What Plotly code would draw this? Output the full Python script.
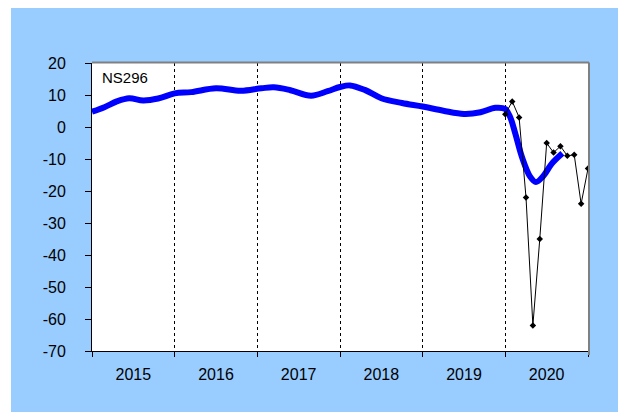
import plotly.graph_objects as go

# ---- data ----
years = [2015, 2016, 2017, 2018, 2019, 2020]
year_labels = ["2015", "2016", "2017", "2018", "2019", "2020"]
y_ticks = [20, 10, 0, -10, -20, -30, -40, -50, -60, -70]
y_tick_labels = ["20", "10", "0", "-10", "-20", "-30", "-40", "-50", "-60", "-70"]

# smoothed series (blue), decimal years
smooth_x = [2015.0, 2015.15, 2015.3, 2015.45, 2015.62, 2015.8, 2016.0, 2016.2, 2016.5,
            2016.8, 2017.05, 2017.2, 2017.4, 2017.65, 2017.85, 2018.0, 2018.12, 2018.3,
            2018.5, 2018.75, 2019.0, 2019.25, 2019.5, 2019.7, 2019.88, 2020.0, 2020.06,
            2020.12, 2020.2, 2020.3, 2020.37, 2020.46, 2020.56, 2020.69]
smooth_y = [4.8, 6.2, 8.0, 9.0, 8.3, 8.9, 10.5, 10.9, 12.1,
            11.3, 12.1, 12.4, 11.5, 9.8, 11.2, 12.5, 13.0, 11.6,
            9.0, 7.5, 6.4, 5.1, 4.1, 4.6, 6.0, 5.6, 3.0,
            -2.0, -9.3, -15.5, -17.2, -15.3, -11.5, -8.2]

# monthly series (black), Jan 2020 .. Jan 2021
monthly_x = [2020.0, 2020.0833, 2020.1667, 2020.25, 2020.3333, 2020.4167, 2020.5,
             2020.5833, 2020.6667, 2020.75, 2020.8333, 2020.9167, 2021.0]
monthly_y = [4, 8, 3, -22, -62, -35, -5, -8, -6, -9, -8.7, -24, -13]

series_label = "NS296"

FONT = "Liberation Sans, Arial, sans-serif"

fig = go.Figure()
fig.add_trace(go.Scatter(x=smooth_x, y=smooth_y, mode="lines",
                         line=dict(color="#0000FF", width=6, shape="spline", smoothing=1.0),
                         hoverinfo="skip", showlegend=False))
fig.add_trace(go.Scatter(x=monthly_x, y=monthly_y, mode="lines+markers",
                         line=dict(color="#000000", width=1),
                         marker=dict(symbol="diamond", size=5, color="#000000"),
                         showlegend=False))

fig.update_layout(
    width=618, height=404,
    margin=dict(l=84, r=38, t=55, b=61),
    paper_bgcolor="white", plot_bgcolor="rgba(0,0,0,0)",
    font=dict(family=FONT, size=16, color="black"),
    xaxis=dict(range=[2015, 2021], showgrid=False, zeroline=False,
               tickmode="array", tickvals=[y + 0.5 for y in years], ticktext=year_labels,
               ticks="", ticklabelstandoff=9,
               showline=True, linecolor="black", linewidth=1,
               minor=dict(tickmode="array", tickvals=years[1:] + [2021] + [2015],
                          ticks="outside", ticklen=5, tickcolor="black", tickwidth=1,
                          showgrid=True, gridcolor="black", gridwidth=1, griddash="dot")),
    yaxis=dict(range=[-70, 20], showgrid=False, zeroline=False,
               tickmode="array", tickvals=y_ticks, ticktext=y_tick_labels,
               ticks="outside", ticklen=6, tickcolor="black", tickwidth=1,
               ticklabelstandoff=16,
               showline=True, linecolor="black", linewidth=1),
    shapes=[
        dict(type="rect", xref="paper", yref="paper", x0=-0.1633, x1=1.2, y0=-0.3, y1=1.3,
             fillcolor="#99CCFF", line=dict(width=0), layer="below"),
        dict(type="rect", xref="paper", yref="paper", x0=0, x1=1, y0=0, y1=1,
             fillcolor="white", line=dict(width=0), layer="below"),
        dict(type="line", xref="paper", yref="paper", x0=0, x1=1.002, y0=1.002, y1=1.002,
             line=dict(color="#808080", width=2)),
        dict(type="line", xref="paper", yref="paper", x0=1.002, x1=1.002, y0=-0.014, y1=1.002,
             line=dict(color="#808080", width=2)),
    ],
    annotations=[dict(text=series_label, xref="paper", yref="paper", x=0.017, y=0.95,
                      xanchor="left", yanchor="middle", showarrow=False,
                      font=dict(family=FONT, size=15, color="black"))],
)

fig.write_html("out.html")
